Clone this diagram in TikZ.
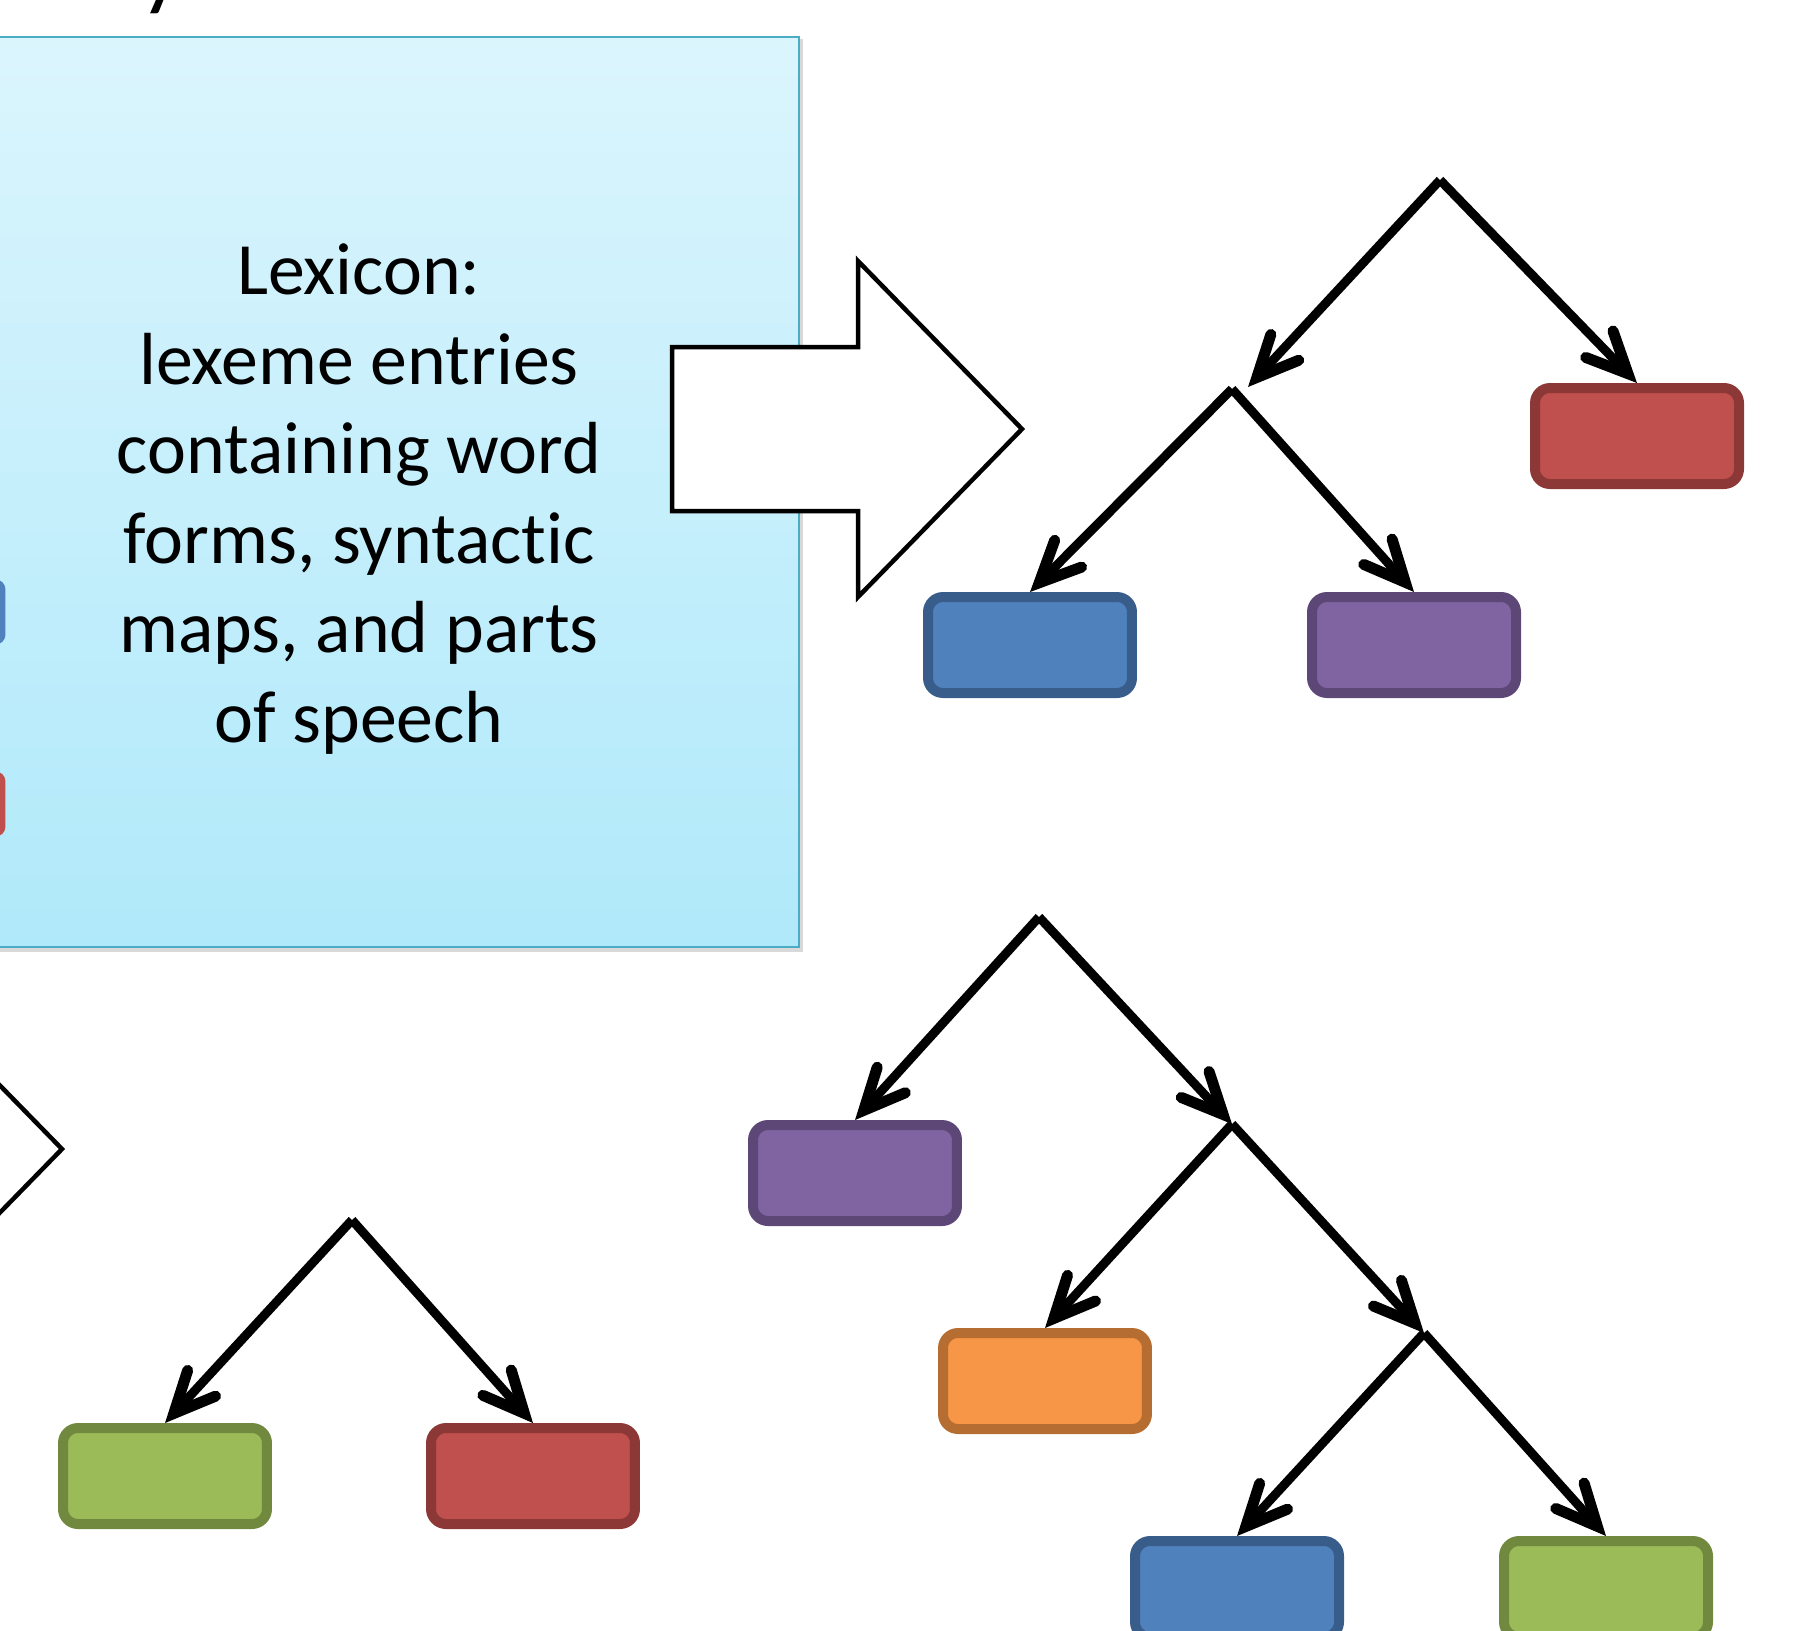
\documentclass[tikz,border=0pt]{standalone}
\usepackage{fontspec}
\setmainfont{Carlito}[Ligatures=NoCommon]
\usetikzlibrary{arrows.meta}
\definecolor{lexTop}{RGB}{219,245,253}
\definecolor{lexBot}{RGB}{176,233,250}
\definecolor{lexLine}{RGB}{75,172,198}
\definecolor{redFill}{RGB}{192,80,77}
\definecolor{redLine}{RGB}{140,56,54}
\definecolor{blueFill}{RGB}{79,129,189}
\definecolor{blueLine}{RGB}{56,93,138}
\definecolor{purpleFill}{RGB}{128,100,162}
\definecolor{purpleLine}{RGB}{92,71,118}
\definecolor{greenFill}{RGB}{155,187,89}
\definecolor{greenLine}{RGB}{113,137,63}
\definecolor{orangeFill}{RGB}{247,150,70}
\definecolor{orangeLine}{RGB}{182,109,49}
\tikzset{
  leaf/.style = {rectangle, rounded corners=0.3cm, line width=0.2cm,
    minimum width=4.08cm, minimum height=1.92cm, inner sep=0pt},
  red leaf/.style = {leaf, draw=redLine, fill=redFill},
  blue leaf/.style = {leaf, draw=blueLine, fill=blueFill},
  purple leaf/.style = {leaf, draw=purpleLine, fill=purpleFill},
  green leaf/.style = {leaf, draw=greenLine, fill=greenFill},
  orange leaf/.style = {leaf, draw=orangeLine, fill=orangeFill},
  stub/.style = {rectangle, rounded corners=0.2cm, minimum width=2.1cm,
    minimum height=1.3cm, inner sep=0pt},
  lexbox/.style = {rectangle, draw=lexLine, line width=0.04cm,
    top color=lexTop, bottom color=lexBot,
    minimum width=17.6cm, minimum height=18.22cm, inner sep=0pt},
  lextext/.style = {align=center, inner sep=0pt,
    font=\fontsize{42}{51}\selectfont},
  branch/.style = {line width=0.18cm,
    -{Straight Barb[length=0.82cm,width=0.76cm,line width=0.22cm,
      line cap=round,line join=miter]}}
}
\newcommand{\blockarrow}{%
  \draw[line width=0.09cm, fill=white] (672,347) -- (858,347) -- (858,261)
    -- (1022,429) -- (858,597) -- (858,511) -- (672,511) -- cycle;}

\begin{document}
\begin{tikzpicture}[x=0.02cm,y=-0.02cm]
  \useasboundingbox (0,0) rectangle (1797,1630);
  \begin{scope}[overlay]
  \clip (0,0) rectangle (1797,1630);
  % cut-off title letter
  \node[font=\fontsize{54}{60}\selectfont, anchor=base west, inner sep=0pt]
    (titleY) at (140,-2) {y};
  % lexicon
  \fill[black!15] (-80,39) rectangle (803,952);
  \node[lexbox] (lexicon) at (359,492) {};
  \node[lextext] (lexText) at (359,499)
    {Lexicon:\\lexeme entries\\containing word\\forms, syntactic\\maps, and parts\\of speech};
  \node[stub, fill=blueFill] (stubBlue) at (-47,612) {};
  \node[stub, fill=redFill] (stubRed) at (-47,804) {};
  \blockarrow
  \begin{scope}[shift={(-960,720)}]
    \blockarrow
  \end{scope}
  % upper tree
  \coordinate (a1) at (1440,180);
  \coordinate (a2) at (1232,389);
  \node[red leaf] (a3) at (1637,436) {};
  \node[blue leaf] (a4) at (1030,645) {};
  \node[purple leaf] (a5) at (1414,645) {};
  \draw[branch] (a1) -- ([shift={(16,-2)}]a2);
  \draw[branch] (a1) -- (a3.north);
  \draw[branch] (a2) -- (a4.north);
  \draw[branch] (a2) -- (a5.north);
  % lower tree
  \coordinate (b1) at (1039,917);
  \coordinate (b2) at (1232,1124);
  \coordinate (b3) at (1424,1333);
  \node[purple leaf] (b4) at (855,1173) {};
  \node[orange leaf] (b5) at (1045,1381) {};
  \node[blue leaf] (b6) at (1237,1589) {};
  \node[green leaf] (b7) at (1606,1589) {};
  \draw[branch] (b1) -- (b4.north);
  \draw[branch] (b1) -- (b2);
  \draw[branch] (b2) -- (b5.north);
  \draw[branch] (b2) -- (b3);
  \draw[branch] (b3) -- (b6.north);
  \draw[branch] (b3) -- (b7.north);
  % small tree
  \coordinate (c1) at (352,1220);
  \node[green leaf] (c2) at (165,1476) {};
  \node[red leaf] (c3) at (533,1476) {};
  \draw[branch] (c1) -- (c2.north);
  \draw[branch] (c1) -- (c3.north);
  \end{scope}
\end{tikzpicture}
\end{document}
